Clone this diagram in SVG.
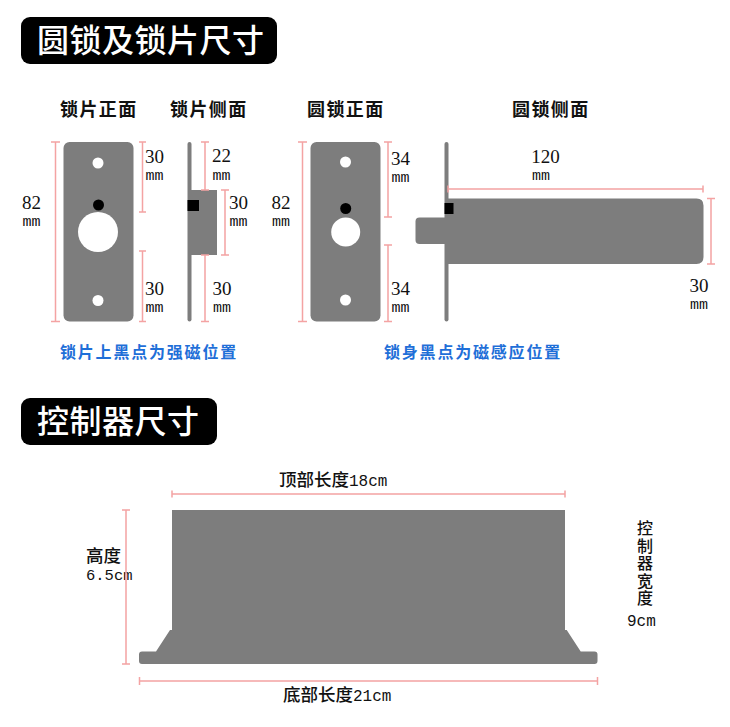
<svg xmlns="http://www.w3.org/2000/svg" width="730" height="727" viewBox="0 0 730 727">
<style>
.g{fill:#7d7d7d}
.w{fill:#fff}
.k{fill:#000}
.d{fill:none;stroke:#f4a3a3;stroke-width:1.5}
text{fill:#111;font-family:"Noto Sans CJK SC","Liberation Sans",sans-serif}
.h{font-size:18px;font-weight:700;letter-spacing:1.400px}
.n{font-family:"Liberation Serif","Noto Sans CJK SC",serif;font-size:19px;text-anchor:middle}
.m{font-family:"Liberation Mono",monospace;font-size:15px;text-anchor:middle}
.b{fill:#1f6fd8;font-size:16px;font-weight:700;letter-spacing:1.800px}
.t{fill:#fff;font-size:32px;font-weight:500;letter-spacing:.5px}
.l{font-size:17.500px;font-weight:500}
.s{font-family:"Liberation Mono",monospace;font-size:16px}
.v{font-size:16px;font-weight:500;letter-spacing:1.500px;writing-mode:vertical-rl}
</style>
<rect width="730" height="727" fill="#fff"/>
<g id="title-lock"><rect x="21" y="17" width="256" height="47" rx="9" class="k"/><text class="t" x="37" y="52">圆锁及锁片尺寸</text></g>
<g id="title-controller"><rect x="21" y="398" width="196" height="47" rx="9" class="k"/><text class="t" x="37" y="433">控制器尺寸</text></g>
<g id="plate-front">
<rect x="63.500" y="142" width="70" height="179.500" rx="6" class="g"/>
<circle cx="98" cy="163" r="5.500" class="w"/><circle cx="98" cy="232" r="20" class="w"/><circle cx="98.500" cy="205" r="5.500" class="k"/><circle cx="98" cy="300.500" r="5.500" class="w"/>
<text class="h" x="60" y="116">锁片正面</text>
<text class="n" x="31.500" y="209">82</text><text class="m" x="31.500" y="226">mm</text>
<text class="n" x="154.500" y="163">30</text><text class="m" x="154.500" y="180">mm</text>
<text class="n" x="154.500" y="295">30</text><text class="m" x="154.500" y="312">mm</text>
</g>
<g id="plate-side">
<rect x="187.500" y="142" width="4" height="179.500" rx="2" class="g"/><rect x="190" y="190" width="27" height="65" class="g"/>
<rect x="187.500" y="200" width="11.500" height="11" class="k"/>
<text class="h" x="170" y="116">锁片侧面</text>
<text class="n" x="221.500" y="162">22</text><text class="m" x="221.500" y="180">mm</text>
<text class="n" x="238.500" y="209">30</text><text class="m" x="238.500" y="226">mm</text>
<text class="n" x="222" y="295">30</text><text class="m" x="222" y="312">mm</text>
</g>
<g id="lock-front">
<rect x="310.500" y="142" width="70" height="179.500" rx="6" class="g"/>
<circle cx="345.500" cy="162" r="5.500" class="w"/><circle cx="345.700" cy="232" r="14.500" class="w"/><circle cx="345.700" cy="208.500" r="5.500" class="k"/><circle cx="345.500" cy="300" r="5.500" class="w"/>
<text class="h" x="307" y="116">圆锁正面</text>
<text class="n" x="281" y="209">82</text><text class="m" x="281" y="226">mm</text>
<text class="n" x="400.500" y="165">34</text><text class="m" x="400.500" y="182">mm</text>
<text class="n" x="400.500" y="295">34</text><text class="m" x="400.500" y="312">mm</text>
</g>
<g id="lock-side">
<rect x="444.500" y="142" width="4" height="179.500" rx="2" class="g"/>
<rect x="415.500" y="217.500" width="34" height="26.500" rx="4" class="g"/>
<path d="M447 198.500H696.500Q703.500 198.500 703.500 205.500V257Q703.500 264 696.500 264H447Z" class="g"/>
<rect x="444.500" y="203" width="9" height="11" class="k"/>
<text class="h" x="512" y="116">圆锁侧面</text>
<text class="n" x="545.500" y="163">120</text><text class="m" x="541" y="180">mm</text>
<text class="n" x="699" y="292">30</text><text class="m" x="699" y="309">mm</text>
</g>
<g id="controller">
<path d="M172 510H565V630L566.700 630L580.700 651.500H594.500Q597.500 651.500 597.500 654.500V661Q597.500 664 594.500 664H142Q139 664 139 661V654.500Q139 651.500 142 651.500H156L170 630H172Z" class="g"/>
<text class="l" x="279" y="486">顶部长度<tspan class="s">18cm</tspan></text>
<text class="l" x="283" y="701">底部长度<tspan class="s">21cm</tspan></text>
<text class="l" x="86" y="562">高度</text><text class="s" style="font-size:15.500px" x="86" y="580">6.5cm</text>
<text class="v" x="645" y="520">控制器宽度</text>
<text class="s" x="627" y="626">9cm</text>
</g>
<g id="connectors">
<path class="d" d="M55.500 142V321.500M51 142h9M51 321.500h9M142.500 142V212M139 142h7M139 212h7M142.500 251V321.500M139 251h7M139 321.500h7"/>
<path class="d" d="M205 142V190M201 142h8M201 190h8M225 190V255M221 190h8M221 255h8M205 255V321.500M201 255h8M201 321.500h8"/>
<path class="d" d="M302.500 142V321.500M298 142h9M298 321.500h9M388 142V217M384 142h8M384 217h8M388 245V321.500M384 245h8M384 321.500h8"/>
<path class="d" d="M448 189H703M448 185.500v7M703 185.500v7M711 198.500V264M707 198.500h8M707 264h8"/>
<path class="d" d="M172 494H565M172 490.500v7M565 490.500v7M139.500 681H597.500M139.500 677v8M597.500 677v8M126 510V664M122 510h8M122 664h8"/>
</g>
<g id="captions">
<text class="b" x="60" y="358">锁片上黑点为强磁位置</text>
<text class="b" x="384" y="358">锁身黑点为磁感应位置</text>
</g>
</svg>
